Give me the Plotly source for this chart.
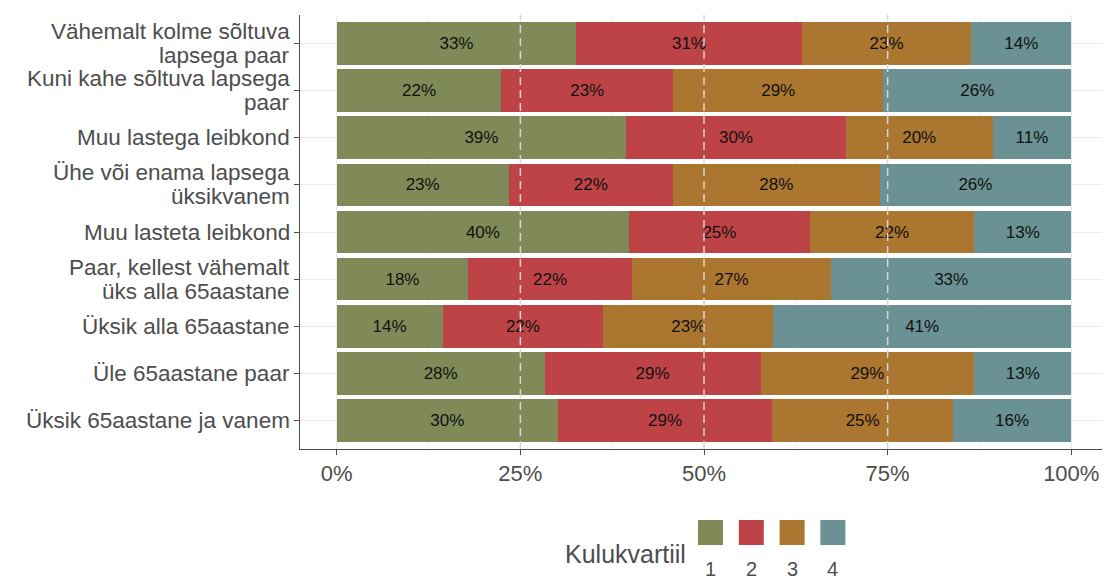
import plotly.graph_objects as go

# ---------------- data ----------------
categories = [
    "Vähemalt kolme sõltuva\nlapsega paar",
    "Kuni kahe sõltuva lapsega\npaar",
    "Muu lastega leibkond",
    "Ühe või enama lapsega\nüksikvanem",
    "Muu lasteta leibkond",
    "Paar, kellest vähemalt\nüks alla 65aastane",
    "Üksik alla 65aastane",
    "Üle 65aastane paar",
    "Üksik 65aastane ja vanem",
]
quartile_names = ["1", "2", "3", "4"]
q1 = [32.6, 22.4, 39.4, 23.4, 39.8, 17.9, 14.4, 28.3, 30.1]
q2 = [30.7, 23.4, 29.9, 22.4, 24.6, 22.3, 21.9, 29.4, 29.2]
q3 = [23.1, 28.6, 20.0, 28.1, 22.4, 27.1, 23.1, 29.1, 24.6]
q4 = [13.6, 25.6, 10.7, 26.1, 13.2, 32.7, 40.6, 13.2, 16.1]
series = [q1, q2, q3, q4]
x_tickvals = [0, 0.25, 0.5, 0.75, 1.0]
x_ticktext = ["0%", "25%", "50%", "75%", "100%"]
x_minor = [0.125, 0.375, 0.625, 0.875]
ref_lines = [0.25, 0.5, 0.75]
legend_title = "Kulukvartiil"

# ---------------- style ----------------
colors = ["#7F8A58", "#BE4347", "#AB762F", "#6A9294"]
GREY = "#4D4D4D"
FONT = "Liberation Sans, Arial, sans-serif"

OFF = 8  # default body margin of the html page
W, H = 1110 - OFF, 581 - OFF
ML, MT = 300 - OFF, 15 - OFF
PW, PH = 808, 434
MR = W - ML - PW
MB = H - MT - PH


def px_x(p):
    return (p - OFF - ML) / PW


def px_y(p):
    return (MT + PH - (p - OFF)) / PH


fig = go.Figure()
for name, vals, col in zip(quartile_names, series, colors):
    fig.add_trace(go.Bar(
        y=categories,
        x=[v / 100 for v in vals],
        orientation="h",
        name=name,
        marker=dict(color=col, line=dict(width=0)),
        width=0.9,
        text=[f"{round(v)}%" for v in vals],
        textposition="inside",
        insidetextanchor="middle",
        textangle=0,
        constraintext="none",
        textfont=dict(family=FONT, size=17, color="#111111"),
        hoverinfo="skip",
    ))

shapes = []
for v in ref_lines:
    shapes.append(dict(type="line", xref="x", yref="paper", x0=v, x1=v, y0=0, y1=1,
                       line=dict(color="#D6D6D6", width=1.5, dash="8px,5px"), layer="above"))

annotations = []
# y-axis labels (wrapped, right aligned)
line_gap = 24
for cat in categories:
    lines = cat.split("\n")
    n = len(lines)
    for i, ln in enumerate(lines):
        annotations.append(dict(
            text=ln, xref="paper", yref="y", x=0, y=cat, xanchor="right", yanchor="middle",
            xshift=-8, yshift=((n - 1) / 2 - i) * line_gap, showarrow=False,
            font=dict(family=FONT, size=22.5, color=GREY)))

# custom legend (keys above labels)
key_x0 = 698
key_step = 40.8
key_w = 25
for i, (name, col) in enumerate(zip(quartile_names, colors)):
    x0 = key_x0 + i * key_step
    shapes.append(dict(type="rect", xref="paper", yref="paper",
                       x0=px_x(x0), x1=px_x(x0 + key_w), y0=px_y(545), y1=px_y(520),
                       fillcolor=col, line=dict(width=0)))
    annotations.append(dict(text=name, xref="paper", yref="paper", x=px_x(x0 + key_w / 2),
                            y=px_y(569), xanchor="center", yanchor="middle", showarrow=False,
                            font=dict(family=FONT, size=20, color=GREY)))
annotations.append(dict(text=legend_title, xref="paper", yref="paper", x=px_x(688), y=px_y(554),
                        xanchor="right", yanchor="middle", showarrow=False,
                        font=dict(family=FONT, size=25, color=GREY)))

fig.update_layout(
    width=W, height=H,
    margin=dict(l=ML, r=MR, t=MT, b=MB, pad=0),
    barmode="stack",
    showlegend=False,
    plot_bgcolor="white", paper_bgcolor="white",
    font=dict(family=FONT, color=GREY),
    shapes=shapes,
    annotations=annotations,
    uniformtext=dict(mode=False),
    xaxis=dict(
        range=[-0.05, 1.05], tickvals=x_tickvals, ticktext=x_ticktext,
        showgrid=True, gridcolor="#EBEBEB", gridwidth=1, zeroline=False,
        minor=dict(tickvals=x_minor, showgrid=True, gridcolor="#F2F2F2", gridwidth=1, ticks=""),
        showline=True, linecolor=GREY, linewidth=1,
        ticks="outside", ticklen=5, tickcolor=GREY, tickwidth=1,
        tickfont=dict(family=FONT, size=22, color=GREY),
    ),
    yaxis=dict(
        type="category", categoryorder="array", categoryarray=categories,
        range=[len(categories) - 1 + 0.6, -0.6],
        showgrid=True, gridcolor="#EBEBEB", gridwidth=1, zeroline=False,
        showline=True, linecolor=GREY, linewidth=1,
        ticks="outside", ticklen=5, tickcolor=GREY, tickwidth=1,
        showticklabels=False,
    ),
)

fig.write_html("out.html")
